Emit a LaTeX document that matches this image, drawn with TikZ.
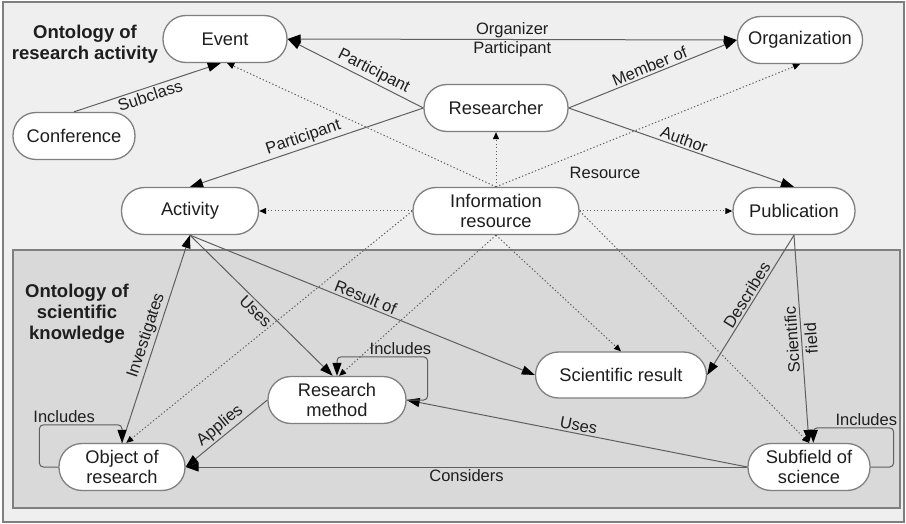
\documentclass[tikz,border=0pt]{standalone}
\usepackage{fontspec}
\setmainfont{Liberation Sans}
\usetikzlibrary{arrows.meta,calc}

\definecolor{framebg}{HTML}{EFEFEF}
\definecolor{boxbg}{HTML}{D9D9D9}
\definecolor{edgecol}{HTML}{5F5F5F}
\definecolor{rimcol}{HTML}{7F7F7F}
\definecolor{inkcol}{HTML}{1E1E1E}

\begin{document}
\begin{tikzpicture}[x=1pt, y=-1pt,
    concept/.style={draw=rimcol, line width=1.3pt, fill=white, rounded corners=23pt, minimum height=47pt, align=center, inner sep=2pt, text=inkcol, font=\fontsize{18.3}{20}\selectfont},
    heading/.style={align=center, text=inkcol, font=\fontsize{18.5}{21}\selectfont\bfseries},
    lbl/.style={text=inkcol, inner sep=2pt, align=center, font=\fontsize{16.5}{19}\selectfont},
    rel/.style={draw=edgecol, line width=1pt, >={Triangle[length=13pt,width=9pt,color=black]}, ->},
    dotrel/.style={draw=edgecol, line width=1pt, dash pattern=on 1.3pt off 2.2pt, >={Triangle[length=7pt,width=6pt,color=black]}, ->}]
    \useasboundingbox (0,0) rectangle (906,524);
    % frames
    \draw[rimcol, line width=1.5pt, fill=framebg] (3,2) rectangle (904,522);
    \draw[rimcol, line width=1.5pt, fill=boxbg] (13,250) rectangle (900,508);
    \node[heading] (topic) at (85,44.7) {Ontology of\\research activity};
    \node[heading] (science) at (77,314) {Ontology of\\scientific\\knowledge};
    % concepts
    \node[concept, minimum width=124pt] (event) at (225,39) {Event};
    \node[concept, minimum width=125pt] (org) at (800,40) {Organization};
    \node[concept, minimum width=122pt] (conf) at (74,136) {Conference};
    \node[concept, minimum width=144pt] (res) at (496,108) {Researcher};
    \node[concept, minimum width=137pt] (act) at (190,211) {Activity};
    \node[concept, minimum width=166pt] (info) at (496,211) {Information\\resource};
    \node[concept, minimum width=122pt] (pub) at (794,211) {Publication};
    \node[concept, minimum width=171pt, minimum height=46pt] (sres) at (621,375) {Scientific result};
    \node[concept, minimum width=138pt] (rmeth) at (337,400) {Research\\method};
    \node[concept, minimum width=126pt] (obj) at (122,467) {Object of\\research};
    \node[concept, minimum width=122pt] (subf) at (809,467) {Subfield of\\science};
    % upper relations
    \draw[rel, <->] (event.east) -- (org.west) node[lbl, midway] {Organizer\\Participant};
    \draw[rel] (res.west) -- (event.east) node[lbl, pos=0.4, sloped, above] {Participant};
    \draw[rel] (res.west) -- (act.north) node[lbl, midway, sloped, above] {Participant};
    \draw[rel] (res.east) -- (org.west) node[lbl, midway, sloped, above] {Member of};
    \draw[rel] (res.east) -- (pub.north) node[lbl, midway, sloped, above] {Author};
    \draw[rel] (conf.north) -- (event.260) node[lbl, midway, sloped, below] {Subclass};
    % resource links
    \draw[dotrel] (info.north) -- (event.275);
    \draw[dotrel] (info.north) -- (res.south);
    \draw[dotrel] (info.north) -- (org.south);
    \draw[dotrel] (info.west) -- (act.east);
    \draw[dotrel] (info.east) -- (pub.west);
    \draw[dotrel] (info.west) -- (obj.80);
    \draw[dotrel] (info.south) -- (rmeth.85);
    \draw[dotrel] (info.south) -- (sres.north);
    \draw[dotrel] (info.east) -- (subf.north);
    \node[lbl] (resourcetag) at (605,173) {Resource};
    % lower relations
    \draw[rel] (act.south) -- (rmeth.100) node[lbl, midway, sloped, below] {Uses};
    \draw[rel] (act.south) -- (sres.west) node[lbl, midway, sloped, above] {Result of};
    \draw[rel] (obj.north) -- (act.south) node[lbl, midway, sloped, above] {Investigates};
    \draw[rel] (rmeth.west) -- (obj.east) node[lbl, midway, sloped, above] {Applies};
    \draw[rel] (subf.west) -- (obj.east) node[lbl, midway, below] {Considers};
    \draw[rel] (subf.west) -- (rmeth.east) node[lbl, midway, sloped, above] {Uses};
    \draw[rel] (pub.south) -- (sres.east) node[lbl, pos=0.46, sloped, above] {Describes};
    \draw[rel] (pub.south) -- (subf.north) node[lbl, midway, rotate=94] {Scientific\\field};
    % includes loops
    \draw[rel, rounded corners=4pt] (rmeth.east) -- ++(21,0) |- ($(rmeth.north)+(0,-19)$) node[lbl, pos=0.65, above] {Includes} -- (rmeth.north);
    \draw[rel, rounded corners=4pt] (obj.west) -- ++(-19,0) |- ($(obj.north)+(0,-18)$) node[lbl, pos=0.65, above] {Includes} -- (obj.north);
    \draw[rel, rounded corners=4pt] (subf.east) -- ++(23,0) |- ($(subf.80)+(0,-15)$) node[lbl, pos=0.67, above] {Includes} -- (subf.80);
\end{tikzpicture}
\end{document}
